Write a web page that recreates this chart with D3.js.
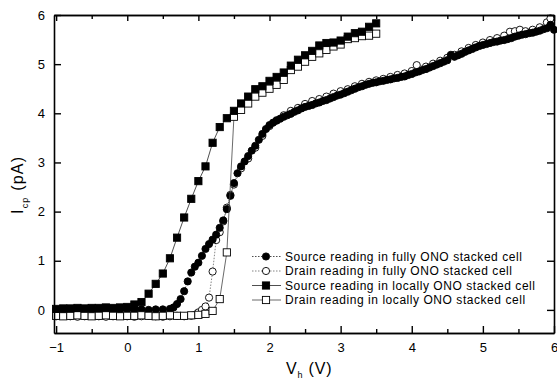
<!DOCTYPE html>
<html>
<head>
<meta charset="utf-8">
<script src="https://cdn.jsdelivr.net/npm/d3@7"></script>
<style>
  body { margin: 0; background: #fff; }
  svg text { font-family: "Liberation Sans", Arial, sans-serif; fill: #000; }
</style>
</head>
<body>
<div id="chart"></div>
<script>
// Source reading, fully ONO stacked cell (filled circles)
const srcFullV = [-1.0,-0.9,-0.8,-0.7,-0.6,-0.5,-0.4,-0.3,-0.2,-0.1,0.0,0.1,0.2,0.3,0.4,0.5,0.6,0.65,0.7,
  0.75,0.8,0.85,0.9,0.95,1.0,1.05,1.1,1.15,1.2,1.25,1.3,1.35,1.4,1.45,1.5,1.55,1.6,1.65,1.7,1.75,1.8,1.85,1.9,1.95,
  2.0,2.05,2.1,2.15,2.2,2.25,2.3,2.35,2.4,2.45,2.5,2.55,2.6,2.65,2.7,2.75,2.8,2.85,2.9,2.95,3.0,3.05,3.1,3.15,3.2,3.25,
  3.3,3.35,3.4,3.45,3.5,3.55,3.6,3.65,3.7,3.75,3.8,3.85,3.9,3.95,4.0,4.05,4.1,4.15,4.2,4.25,4.3,4.35,4.4,4.45,4.5,4.55,
  4.6,4.65,4.7,4.75,4.8,4.85,4.9,4.95,5.0,5.05,5.1,5.15,5.2,5.25,5.3,5.35,5.4,5.45,5.5,5.55,5.6,5.65,5.7,5.75,5.8,5.85,5.9,5.95,6.0];
const srcFullI = [0.0,0.01,0.0,0.01,0.0,0.01,0.0,0.01,0.0,0.01,0.01,0.0,0.01,0.0,0.01,0.01,0.02,0.05,0.12,
  0.22,0.38,0.58,0.76,0.88,0.96,1.10,1.24,1.34,1.43,1.53,1.67,1.82,2.05,2.32,2.58,2.78,2.92,3.02,3.13,3.24,3.34,3.46,3.58,3.68,
  3.76,3.81,3.85,3.89,3.93,3.96,3.99,4.03,4.06,4.10,4.13,4.15,4.17,4.20,4.22,4.25,4.27,4.30,4.33,4.36,4.38,4.41,4.44,4.47,4.50,4.53,
  4.55,4.58,4.60,4.62,4.63,4.65,4.66,4.68,4.69,4.71,4.72,4.74,4.75,4.78,4.80,4.83,4.85,4.88,4.90,4.93,4.96,4.99,5.02,5.05,5.08,5.19,
  5.15,5.18,5.21,5.25,5.28,5.31,5.34,5.37,5.39,5.41,5.43,5.45,5.46,5.48,5.49,5.51,5.53,5.56,5.58,5.60,5.61,5.63,5.64,5.66,5.68,5.71,5.73,5.80,5.70];

// Drain reading, fully ONO stacked cell (open circles)
const drnFullV = [-1.0,-0.9,-0.8,-0.7,-0.6,-0.5,-0.4,-0.3,-0.2,-0.1,0.0,0.1,0.2,0.3,0.4,0.5,0.6,0.7,0.8,0.9,0.95,1.0,1.05,1.1,1.15,
  1.2,1.25,1.3,1.35,1.4,1.45,1.5,1.6,1.7,1.8,1.9,2.0,2.1,2.2,2.3,2.4,2.5,2.6,2.7,2.8,2.9,3.0,3.1,3.2,3.3,3.4,3.5,3.6,3.7,3.8,3.9,
  4.0,4.07,4.2,4.3,4.4,4.5,4.6,4.7,4.8,4.9,5.0,5.1,5.2,5.3,5.38,5.45,5.52,5.6,5.7,5.8,5.9,5.95];
const drnFullI = [-0.13,-0.12,-0.13,-0.14,-0.13,-0.12,-0.13,-0.14,-0.13,-0.12,-0.13,-0.14,-0.13,-0.12,-0.13,-0.14,-0.13,-0.12,-0.13,-0.12,-0.10,-0.05,0.0,0.07,0.25,
  0.78,1.42,1.58,1.80,2.08,2.34,2.55,2.88,3.08,3.30,3.54,3.74,3.86,3.96,4.05,4.11,4.19,4.25,4.29,4.34,4.40,4.45,4.49,4.55,4.60,4.64,4.67,4.70,4.74,4.78,4.81,
  4.86,4.98,4.95,5.01,5.07,5.13,5.19,5.26,5.33,5.39,5.44,5.49,5.53,5.58,5.66,5.67,5.70,5.67,5.70,5.75,5.85,5.93];

// Source reading, locally ONO stacked cell (filled squares)
const srcLocV = [-1.0,-0.9,-0.8,-0.7,-0.6,-0.5,-0.4,-0.3,-0.2,-0.1,0.0,0.1,0.2,0.3,0.4,0.5,0.6,0.7,0.8,0.9,1.0,1.1,1.2,1.3,1.4,
  1.5,1.6,1.7,1.8,1.9,2.0,2.1,2.2,2.3,2.4,2.5,2.6,2.7,2.8,2.9,3.0,3.1,3.2,3.3,3.4,3.5];
const srcLocI = [0.02,0.03,0.03,0.04,0.03,0.04,0.04,0.05,0.04,0.05,0.06,0.11,0.16,0.33,0.53,0.74,1.05,1.47,1.88,2.26,2.62,2.92,3.40,3.72,3.90,
  4.05,4.20,4.34,4.49,4.55,4.66,4.74,4.83,4.97,5.09,5.18,5.27,5.38,5.43,5.44,5.48,5.56,5.63,5.66,5.76,5.83];

// Drain reading, locally ONO stacked cell (open squares)
const drnLocV = [-1.0,-0.9,-0.8,-0.7,-0.6,-0.5,-0.4,-0.3,-0.2,-0.1,0.0,0.1,0.2,0.3,0.4,0.5,0.6,0.7,0.8,0.9,1.0,1.1,1.2,1.3,1.4,
  1.5,1.6,1.7,1.8,1.9,2.0,2.1,2.2,2.3,2.4,2.5,2.6,2.7,2.8,2.9,3.0,3.1,3.2,3.3,3.4,3.5];
const drnLocI = [-0.12,-0.13,-0.12,-0.11,-0.12,-0.13,-0.12,-0.11,-0.12,-0.13,-0.12,-0.12,-0.11,-0.12,-0.13,-0.12,-0.11,-0.12,-0.12,-0.11,-0.10,-0.08,-0.02,0.22,1.17,
  3.93,4.07,4.20,4.34,4.42,4.50,4.58,4.68,4.88,4.95,5.05,5.15,5.22,5.29,5.36,5.40,5.51,5.53,5.57,5.58,5.62];

const legendLabels = [
  'Source reading in fully ONO stacked cell',
  'Drain reading in fully ONO stacked cell',
  'Source reading in locally ONO stacked cell',
  'Drain reading in locally ONO stacked cell'
];
const xMajor = [-1, 0, 1, 2, 3, 4, 5, 6];
const xMinor = [-0.5, 0.5, 1.5, 2.5, 3.5, 4.5, 5.5];
const yMajor = [0, 1, 2, 3, 4, 5, 6];

const W = 557, H = 383;
const margin = { left: 54, right: 554, top: 15, bottom: 333 };

const svg = d3.select('#chart').append('svg')
  .attr('width', W)
  .attr('height', H);

const x = d3.scaleLinear().domain([-1.03, 6]).range([margin.left, margin.right]);
const y = d3.scaleLinear().domain([-0.47, 6]).range([margin.bottom, margin.top]);

// series definitions (draw order: open first, filled on top)
const series = [
  { V: drnFullV, I: drnFullI, shape: 'circle', fill: '#fff', dash: '1.5,1.5', lineColor: '#666' },
  { V: srcFullV, I: srcFullI, shape: 'circle', fill: '#000', dash: '1.5,1.5', lineColor: '#222' },
  { V: drnLocV, I: drnLocI, shape: 'square', fill: '#fff', dash: null, lineColor: '#444' },
  { V: srcLocV, I: srcLocI, shape: 'square', fill: '#000', dash: null, lineColor: '#222' }
];

const line = d3.line().x(d => x(d[0])).y(d => y(d[1]));

function drawMarker(g, shape, fill, cx, cy) {
  if (shape === 'circle') {
    g.append('circle').attr('cx', cx).attr('cy', cy).attr('r', 3.6)
      .attr('fill', fill).attr('stroke', '#000').attr('stroke-width', 0.9);
  } else {
    g.append('rect').attr('x', cx - 3.6).attr('y', cy - 3.6).attr('width', 7.2).attr('height', 7.2)
      .attr('fill', fill).attr('stroke', '#000').attr('stroke-width', 0.9);
  }
}

const plot = svg.append('g');
series.forEach(s => {
  const pts = s.V.map((v, i) => [v, s.I[i]]);
  plot.append('path')
    .datum(pts)
    .attr('fill', 'none')
    .attr('stroke', s.lineColor)
    .attr('stroke-width', 0.8)
    .attr('stroke-dasharray', s.dash)
    .attr('d', line);
  const g = plot.append('g');
  pts.forEach(p => drawMarker(g, s.shape, s.fill, x(p[0]), y(p[1])));
});

// axes
const axisStyle = g => {
  g.select('.domain').attr('stroke-width', 1.6);
  g.selectAll('.tick line').attr('stroke-width', 1.4);
  g.selectAll('text').attr('font-size', 13).attr('font-family', '"Liberation Sans", Arial, sans-serif');
};

svg.append('g')
  .attr('transform', `translate(0,${margin.bottom})`)
  .call(d3.axisBottom(x).tickValues(xMajor).tickSize(-7).tickSizeOuter(0).tickPadding(10).tickFormat(d3.format('d')))
  .call(axisStyle);
svg.append('g')
  .attr('transform', `translate(0,${margin.bottom})`)
  .call(d3.axisBottom(x).tickValues(xMinor).tickSize(-4).tickSizeOuter(0).tickFormat(''))
  .call(axisStyle);
svg.append('g')
  .attr('transform', `translate(0,${margin.top})`)
  .call(d3.axisTop(x).tickValues(xMajor).tickSize(-6).tickSizeOuter(0).tickFormat(''))
  .call(axisStyle);
svg.append('g')
  .attr('transform', `translate(0,${margin.top})`)
  .call(d3.axisTop(x).tickValues(xMinor).tickSize(-4).tickSizeOuter(0).tickFormat(''))
  .call(axisStyle);
svg.append('g')
  .attr('transform', `translate(${margin.left},0)`)
  .call(d3.axisLeft(y).tickValues(yMajor).tickSize(-7).tickSizeOuter(0).tickPadding(9).tickFormat(d3.format('d')))
  .call(axisStyle);
svg.append('g')
  .attr('transform', `translate(${margin.right},0)`)
  .call(d3.axisRight(y).tickValues(yMajor).tickSize(-7).tickSizeOuter(0).tickFormat(''))
  .call(axisStyle);

// axis titles
const xt = svg.append('text').attr('x', 286).attr('y', 374).attr('font-size', 16).attr('letter-spacing', 0.8);
xt.append('tspan').text('V');
xt.append('tspan').attr('font-size', 9).attr('dy', 4).text('h');
xt.append('tspan').attr('dy', -4).text(' (V)');

const yt = svg.append('text')
  .attr('transform', 'translate(23,214) rotate(-90)')
  .attr('font-size', 16).attr('letter-spacing', 1.2);
yt.append('tspan').text('I');
yt.append('tspan').attr('font-size', 9).attr('dy', 5).text('cp');
yt.append('tspan').attr('dy', -5).text(' (pA)');

// legend
const legend = svg.append('g');
const legendY = [256.5, 271, 285.5, 300];
const legendOrder = [series[1], series[0], series[3], series[2]];
legendOrder.forEach((s, i) => {
  const ly = legendY[i];
  legend.append('line')
    .attr('x1', 252).attr('x2', 281).attr('y1', ly).attr('y2', ly)
    .attr('stroke', s.lineColor).attr('stroke-width', 0.8)
    .attr('stroke-dasharray', s.dash);
  drawMarker(legend, s.shape, s.fill, 266, ly);
  legend.append('text')
    .attr('x', 285).attr('y', ly + 4)
    .attr('font-size', 12)
    .attr('letter-spacing', 0.55)
    .text(legendLabels[i]);
});
</script>
</body>
</html>
